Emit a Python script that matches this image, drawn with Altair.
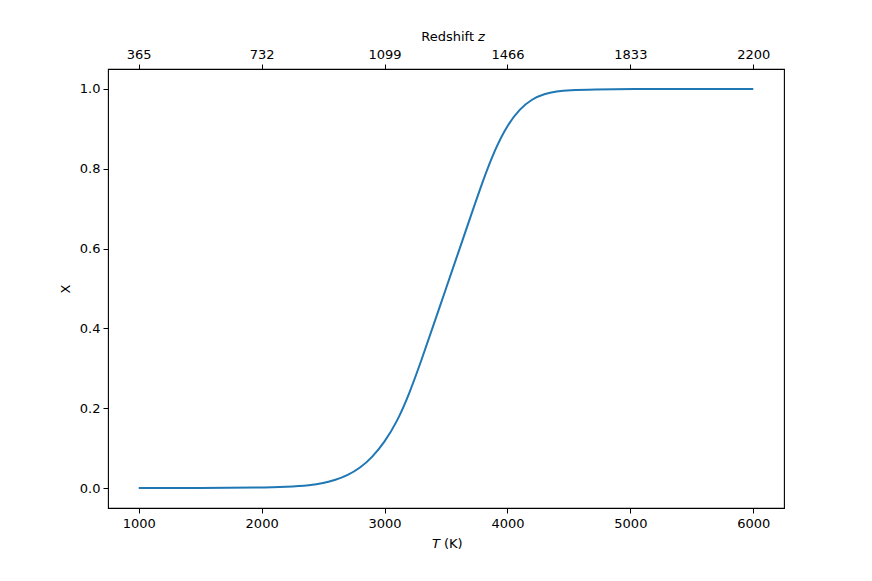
import altair as alt
import pandas as pd

# Temperature (K) and ionization fraction X
T_vals = [1000, 1500, 2000, 2200, 2400, 2500, 2600, 2700, 2800, 2900, 3000,
          3100, 3200, 3300, 3400, 3500, 3600, 3700, 3800, 3900, 4000, 4100,
          4200, 4300, 4400, 4500, 4700, 5000, 5500, 6000]
X_vals = [0.0, 0.0, 0.001, 0.003, 0.007, 0.012, 0.02, 0.032, 0.05, 0.077, 0.115,
          0.165, 0.235, 0.32, 0.41, 0.50, 0.59, 0.68, 0.77, 0.85, 0.91, 0.95,
          0.975, 0.988, 0.994, 0.997, 0.999, 1.0, 1.0, 1.0]

T_ticks = [1000, 2000, 3000, 4000, 5000, 6000]
z_labels = ["365", "732", "1099", "1466", "1833", "2200"]
y_ticks = [0.0, 0.2, 0.4, 0.6, 0.8, 1.0]

df = pd.DataFrame({"T": T_vals, "X": X_vals})

FONT = "DejaVu Sans"
W, H = 676, 439

label_expr = " : ".join(
    f"datum.value == {t} ? '{z}'" for t, z in zip(T_ticks, z_labels)
) + " : ''"

xscale = alt.Scale(domain=[750, 6250], nice=False, zero=False)
yscale = alt.Scale(domain=[-0.05, 1.05], nice=False, zero=False)

yaxis = alt.Axis(values=y_ticks, format=".1f", title="X", grid=False,
                 domain=False, tickColor="black", tickSize=5,
                 labelColor="black", labelFontSize=13, labelFont=FONT,
                 labelPadding=3, titleFont=FONT, titleFontSize=13,
                 titleFontWeight="normal", titleColor="black",
                 titlePadding=7)

line = alt.Chart(df).mark_line(color="#1f77b4", strokeWidth=2, interpolate="basis").encode(
    x=alt.X("T:Q", scale=xscale,
            axis=alt.Axis(orient="bottom", values=T_ticks, format="d", title=None,
                          grid=False, domain=False, tickColor="black", tickSize=5,
                          labelColor="black", labelFontSize=13, labelFont=FONT,
                          labelPadding=4)),
    y=alt.Y("X:Q", scale=yscale, axis=yaxis),
)

top = alt.Chart(df).mark_line(opacity=0).encode(
    x=alt.X("T:Q", scale=xscale,
            axis=alt.Axis(orient="top", values=T_ticks, labelExpr=label_expr,
                          title=None, grid=False, domain=False, tickColor="black",
                          tickSize=5, labelColor="black", labelFontSize=13,
                          labelFont=FONT, labelPadding=3)),
    y=alt.Y("X:Q", scale=yscale, axis=yaxis),
)

one = pd.DataFrame({"k": [0]})

def txt(text, x, y, align, italic=False):
    return alt.Chart(one).mark_text(
        text=text, align=align, baseline="middle", font=FONT, fontSize=13,
        color="black", fontStyle="italic" if italic else "normal"
    ).encode(x=alt.value(x), y=alt.value(y))

titles = (
    txt("T", 332, 475, "right", italic=True)
    + txt("(K)", 336, 475, "left")
    + txt("Redshift", 366, -32, "right")
    + txt("z", 370, -32, "left", italic=True)
)

chart = alt.layer(line, top, titles).resolve_axis(x="independent").properties(
    width=W, height=H,
    autosize=alt.AutoSizeParams(type="none"),
    padding={"left": 100, "top": 61, "right": 80, "bottom": 65},
).configure(background="white").configure_view(stroke="black", strokeWidth=1.1)

chart.save("out.html", embed_options={"renderer": "svg", "actions": False})
